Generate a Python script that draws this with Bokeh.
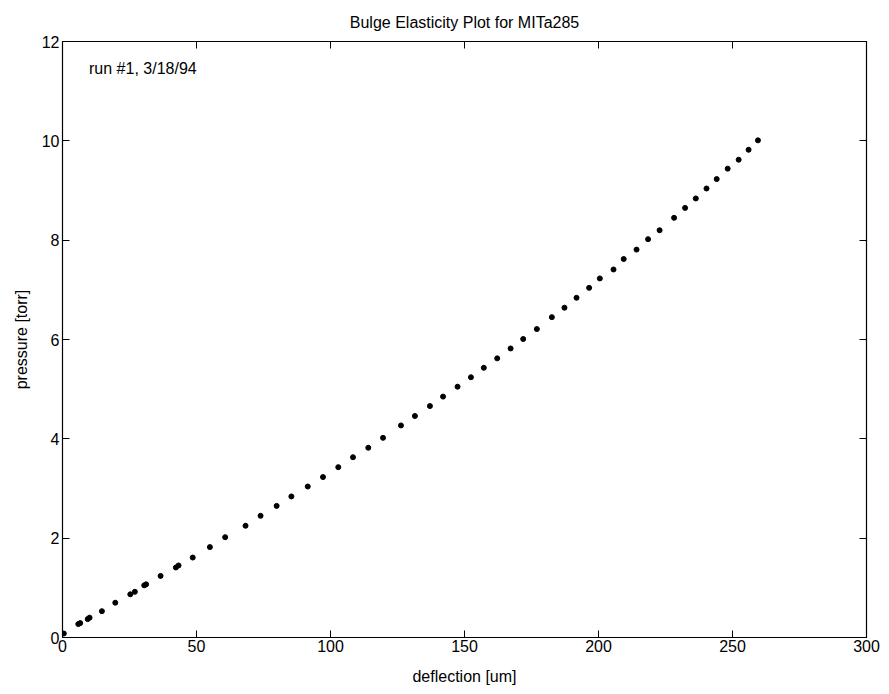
from bokeh.plotting import figure
from bokeh.models import LinearAxis, Range1d, FixedTicker
from bokeh.core.properties import value
from bokeh.embed import file_html
from bokeh.resources import INLINE

deflection = [0.5, 5.9, 6.6, 9.4, 10.1, 14.7, 19.7, 25.3, 27.0, 30.5, 31.2, 36.6, 42.3, 43.3,
              48.6, 55.0, 60.7, 68.3, 73.9, 79.9, 85.4, 91.5, 97.2, 102.9, 108.4, 114.1,
              119.6, 126.3, 131.5, 137.1, 142.0, 147.4, 152.4, 157.2, 162.2, 167.2, 171.9,
              177.0, 182.6, 187.3, 191.8, 196.5, 200.5, 205.6, 209.4, 214.2, 218.5, 222.8,
              228.2, 232.3, 236.3, 240.3, 244.1, 248.2, 252.3, 256.0, 259.5]
pressure = [0.08, 0.27, 0.29, 0.37, 0.40, 0.53, 0.70, 0.87, 0.92, 1.05, 1.07, 1.24, 1.41, 1.45,
            1.61, 1.82, 2.02, 2.25, 2.45, 2.65, 2.84, 3.04, 3.23, 3.43, 3.63, 3.82,
            4.02, 4.27, 4.46, 4.66, 4.85, 5.05, 5.24, 5.43, 5.62, 5.82, 6.01,
            6.21, 6.45, 6.64, 6.84, 7.04, 7.23, 7.41, 7.62, 7.81, 8.02, 8.20,
            8.45, 8.65, 8.84, 9.04, 9.23, 9.44, 9.62, 9.82, 10.01]
x_ticks = [0, 50, 100, 150, 200, 250, 300]
y_ticks = [0, 2, 4, 6, 8, 10, 12]
title_text = "Bulge Elasticity Plot for MITa285"
annotation = "run #1, 3/18/94"

FONT = "Liberation Sans"

p = figure(width=889, height=694, output_backend="svg", toolbar_location=None,
           x_range=Range1d(0, 300), y_range=Range1d(0, 12),
           min_border_left=62, min_border_right=23, min_border_top=41, min_border_bottom=57,
           x_axis_label="deflection [um]", y_axis_label="pressure [torr]")
p.title.text = title_text
p.title.align = "center"
p.title.text_font = FONT
p.title.text_font_size = "16px"
p.title.text_font_style = "normal"
p.title.text_color = "black"
p.title.offset = 0
p.title.standoff = 22

p.grid.visible = False
p.background_fill_color = "white"
p.border_fill_color = "white"
p.outline_line_color = "black"
p.outline_line_width = 1.2

for ax, ticks in ((p.xaxis[0], x_ticks), (p.yaxis[0], y_ticks)):
    ax.ticker = FixedTicker(ticks=ticks)
    ax.major_tick_in = 7
    ax.major_tick_out = 0
    ax.minor_tick_line_color = None
    ax.axis_line_color = "black"
    ax.major_tick_line_color = "black"
    ax.major_label_text_font = FONT
    ax.major_label_text_font_size = "16px"
    ax.major_label_text_color = "black"
    ax.axis_label_text_font = FONT
    ax.axis_label_text_font_size = "16px"
    ax.axis_label_text_font_style = "normal"
    ax.axis_label_text_color = "black"
p.xaxis[0].major_label_standoff = 2
p.xaxis[0].axis_label_standoff = 13
p.yaxis[0].major_label_standoff = 3
p.yaxis[0].axis_label_standoff = 9

blank_x = {t: "" for t in x_ticks}
blank_y = {t: "" for t in y_ticks}
top = LinearAxis(ticker=FixedTicker(ticks=x_ticks), major_tick_in=7, major_tick_out=0,
                 major_label_overrides=blank_x, major_label_text_font_size="0px",
                 minor_tick_line_color=None, major_label_standoff=0)
right = LinearAxis(ticker=FixedTicker(ticks=y_ticks), major_tick_in=7, major_tick_out=0,
                   major_label_overrides=blank_y, major_label_text_font_size="1px",
                   minor_tick_line_color=None, major_label_standoff=0)
p.add_layout(top, "above")
p.add_layout(right, "right")

p.scatter(deflection, pressure, size=5, color="black", marker="circle")

p.text(x=[9.9], y=[11.45], text=[annotation], text_font=value(FONT),
       text_font_size="16px", text_baseline="middle", text_align="left", color="black")

open("out.html", "w").write(file_html(p, INLINE))
